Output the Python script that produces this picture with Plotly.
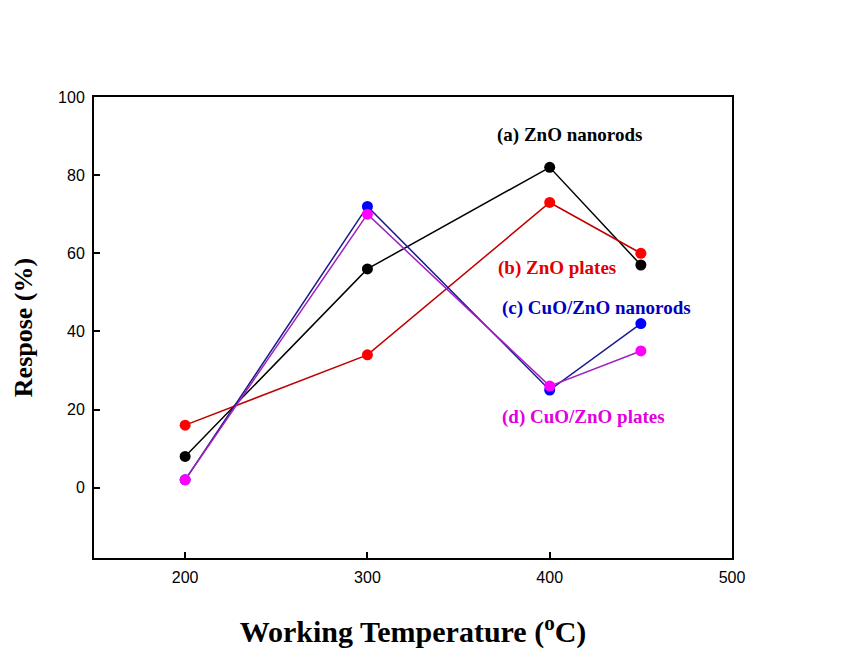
import plotly.graph_objects as go

temps = [200, 300, 400, 450]
zno_nanorods = [8, 56, 82, 57]
zno_plates = [16, 34, 73, 60]
cuo_zno_nanorods = [2, 72, 25, 42]
cuo_zno_plates = [2, 70, 26, 35]

series = [
    ("(a) ZnO nanorods", zno_nanorods, "#000000", "#000000"),
    ("(b) ZnO plates", zno_plates, "#c00000", "#ff0000"),
    ("(c) CuO/ZnO nanorods", cuo_zno_nanorods, "#1a1a8c", "#0000ff"),
    ("(d) CuO/ZnO plates", cuo_zno_plates, "#a020c0", "#ff00ff"),
]

fig = go.Figure()
for name, vals, lc, mc in series:
    fig.add_trace(go.Scatter(
        x=temps, y=vals, mode="lines+markers", name=name,
        line=dict(color=lc, width=1.5),
        marker=dict(color=mc, size=11),
    ))

labels = [
    ("(a) ZnO nanorods", 411, 90.4, "#000000"),
    ("(b) ZnO plates", 404, 56.3, "#e00000"),
    ("(c) CuO/ZnO nanorods", 425.4, 46.1, "#0000c0"),
    ("(d) CuO/ZnO plates", 418.3, 18.1, "#e000e0"),
]
for txt, x, y, c in labels:
    fig.add_annotation(x=x, y=y, text=f"<b>{txt}</b>", showarrow=False,
                       font=dict(family="Liberation Serif, Times New Roman, serif", size=19, color=c))

axis_common = dict(
    showgrid=False, zeroline=False, showline=True, linecolor="black", linewidth=2,
    mirror=True, ticks="inside", ticklen=6, tickwidth=1.5, tickcolor="black",
    ticklabelstandoff=4,
    tickfont=dict(family="Liberation Sans, Arial, sans-serif", size=16, color="black"),
)

fig.update_layout(
    width=868, height=650,
    paper_bgcolor="white", plot_bgcolor="white",
    margin=dict(l=86, r=144, t=89, b=100),
    showlegend=False,
    xaxis=dict(range=[150, 500], tickvals=[200, 300, 400, 500],
               title=dict(text="<b>Working Temperature (<sup>o</sup>C)</b>", standoff=36,
                          font=dict(family="Liberation Serif, Times New Roman, serif", size=30, color="black")),
               **axis_common),
    yaxis=dict(range=[-18, 100], tickvals=[0, 20, 40, 60, 80, 100],
               title=dict(text="<b>Respose (%)</b>", standoff=18,
                          font=dict(family="Liberation Serif, Times New Roman, serif", size=26, color="black")),
               **axis_common),
)

fig.write_html("out.html")
